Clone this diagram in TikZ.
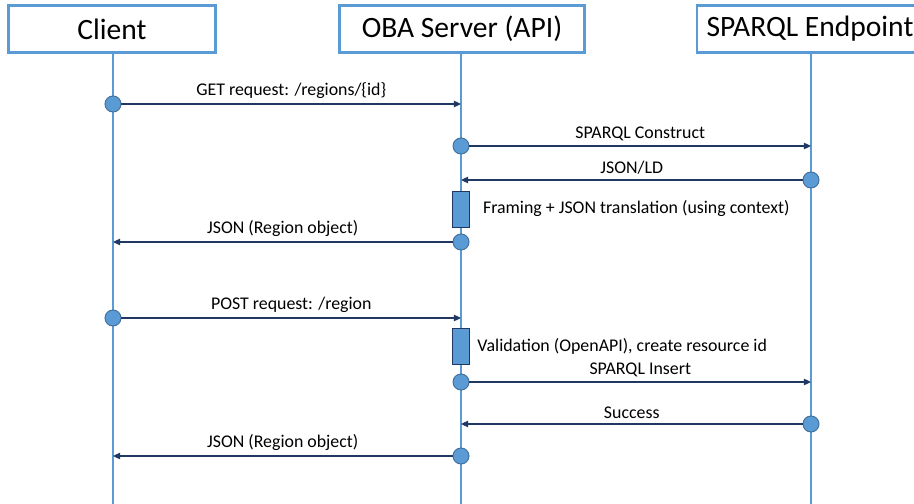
\documentclass[tikz,border=0pt]{standalone}
\usepackage{fontspec}
\setmainfont{Carlito}
\usepackage{tikz}
\usetikzlibrary{arrows.meta}
\usetikzlibrary{positioning}

\definecolor{lineblue}{HTML}{5B9BD5}
\definecolor{dotedge}{HTML}{41719C}
\definecolor{navy}{HTML}{1F3864}

\tikzset{
  head/.style={draw=lineblue, line width=1.8pt, fill=white, minimum height=47*0.025cm,
    font=\fontsize{21}{24}\selectfont},
  life/.style={draw=lineblue, line width=1.3pt},
  dot/.style={circle, draw=dotedge, fill=lineblue, line width=0.7pt, minimum size=16*0.025cm, inner sep=0pt},
  actbox/.style={rectangle, draw=navy, fill=lineblue, line width=0.7pt, minimum width=17*0.025cm,
    minimum height=36*0.025cm, inner sep=0pt},
  msg/.style={draw=navy, line width=0.9pt, -{Triangle[length=5pt,width=4.5pt]}},
  lbl/.style={above, inner sep=3.3pt, text=black, font=\fontsize{12.7}{15}\selectfont},
  note/.style={inner sep=0pt, anchor=west, font=\fontsize{12.7}{15}\selectfont}
}

\begin{document}
\begin{tikzpicture}[x=0.025cm, y=-0.025cm]
  \useasboundingbox (0,0) rectangle (914,504);
  \fill [white] (0,0) rectangle (914,504);

  % heads and lifelines
  \draw [life] (113,52) -- (113,504);
  \draw [life] (461,52) -- (461,504);
  \draw [life] (811,52) -- (811,504);
  \node [head, minimum width=207*0.025cm] (client) at (112,29) {Client};
  \node [head, minimum width=245*0.025cm] (server) at (462,29) {OBA Server (API)};
  \node [head, minimum width=226*0.025cm] (endpoint) at (810,29) {SPARQL Endpoint};

  % GET
  \node [dot] (get) at (113,104) {};
  \coordinate (getend) at (461,104);
  \draw [msg] (get) -- node[lbl]{GET request: /regions/\{id\}} (getend);

  \node [dot] (construct) at (461,146) {};
  \coordinate (constructend) at (811,146);
  \draw [msg] (construct) -- node[lbl]{SPARQL Construct} (constructend);

  \node [dot] (jsonld) at (811,180) {};
  \coordinate (jsonldend) at (461,180);
  \draw [msg] (jsonld) -- node[lbl]{JSON/LD} (jsonldend);

  \node [actbox] (framing) at (461,209) {};
  \node [note, right=0.32cm of framing] (framingtxt) {Framing + JSON translation (using context)};

  \node [dot] (getreply) at (461,242) {};
  \coordinate (getreplyend) at (113,242);
  \draw [msg] (getreply) -- node[lbl]{JSON (Region object)} (getreplyend);

  % POST
  \node [dot] (post) at (113,318) {};
  \coordinate (postend) at (461,318);
  \draw [msg] (post) -- node[lbl]{POST request: /region} (postend);

  \node [actbox] (validation) at (461,346) {};
  \node [note, right=0.18cm of validation] (validationtxt) {Validation (OpenAPI), create resource id};

  \node [dot] (insert) at (461,382) {};
  \coordinate (insertend) at (811,382);
  \draw [msg] (insert) -- node[lbl]{SPARQL Insert} (insertend);

  \node [dot] (success) at (811,424) {};
  \coordinate (successend) at (461,424);
  \draw [msg] (success) -- node[lbl]{Success} (successend);

  \node [dot] (postreply) at (461,456) {};
  \coordinate (postreplyend) at (113,456);
  \draw [msg] (postreply) -- node[lbl]{JSON (Region object)} (postreplyend);
\end{tikzpicture}
\end{document}
